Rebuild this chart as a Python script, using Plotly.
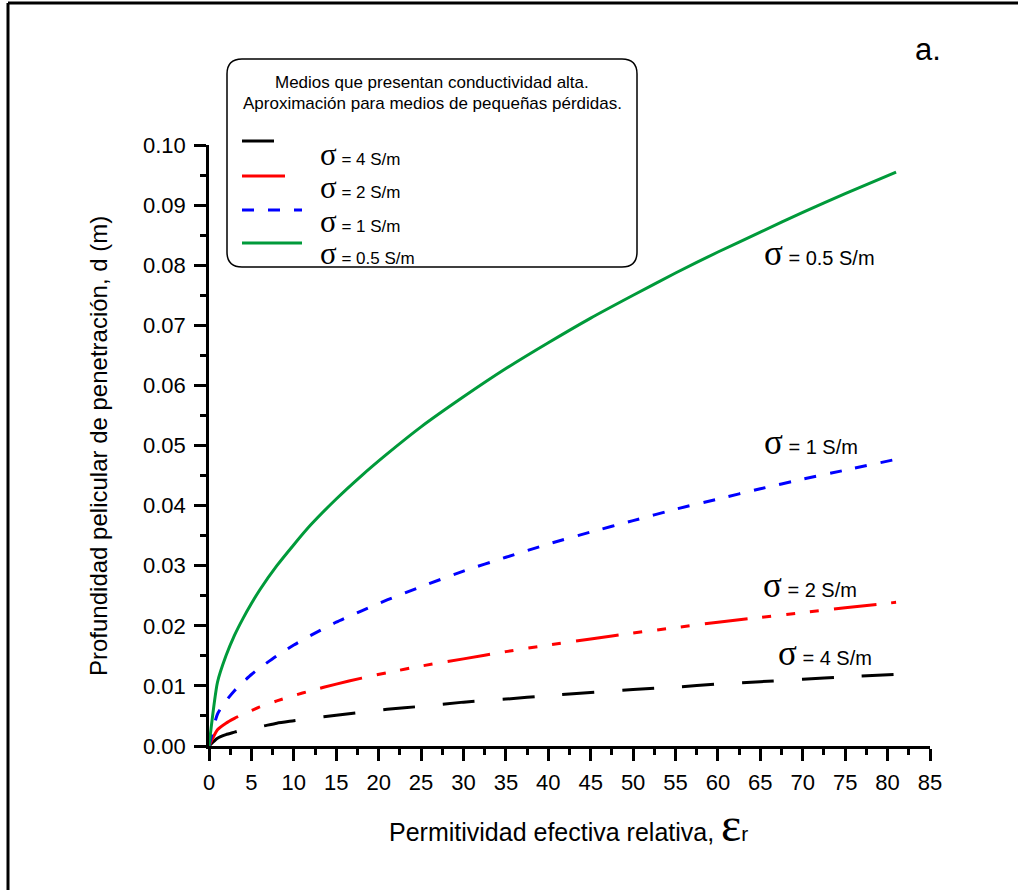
import plotly.graph_objects as go

# Relative effective permittivity (x) and skin depth d in metres (y) per conductivity
eps_r = [0, 1, 2, 3, 4, 5, 6, 8, 10, 12, 15, 18, 21, 25, 30, 35, 40, 45, 50, 55, 60, 65, 70, 75, 81]
d_sigma_4 = [0, 0.0013, 0.0019, 0.0023, 0.0027, 0.0030, 0.0032, 0.0038, 0.0042, 0.0046, 0.0051, 0.0056,
             0.0061, 0.0066, 0.0073, 0.0078, 0.0084, 0.0089, 0.0094, 0.0098, 0.0103, 0.0107, 0.0111, 0.0115, 0.0119]
d_sigma_2 = [0, 0.0027, 0.0038, 0.0046, 0.0053, 0.0059, 0.0065, 0.0075, 0.0084, 0.0092, 0.0103, 0.0113,
             0.0122, 0.0133, 0.0145, 0.0157, 0.0168, 0.0178, 0.0188, 0.0197, 0.0206, 0.0214, 0.0222, 0.0230, 0.0239]
d_sigma_1 = [0, 0.0053, 0.0075, 0.0092, 0.0106, 0.0119, 0.0130, 0.0150, 0.0168, 0.0184, 0.0206, 0.0225,
             0.0243, 0.0265, 0.0291, 0.0314, 0.0336, 0.0356, 0.0375, 0.0394, 0.0411, 0.0428, 0.0444, 0.0459, 0.0477]
d_sigma_05 = [0, 0.0106, 0.0150, 0.0184, 0.0212, 0.0237, 0.0260, 0.0300, 0.0335, 0.0368, 0.0411, 0.0450,
              0.0486, 0.0531, 0.0581, 0.0628, 0.0671, 0.0712, 0.0750, 0.0787, 0.0822, 0.0855, 0.0888, 0.0919, 0.0955]

series_labels = ["4 S/m", "2 S/m", "1 S/m", "0.5 S/m"]
series_values = [d_sigma_4, d_sigma_2, d_sigma_1, d_sigma_05]
series_colors = ["#000000", "#ff0000", "#0000ff", "#009a3a"]
series_dashes = ["32px,28px",
                 "43px,15px,9px,15px,9px,15px,9px,15px",
                 "12px,14px",
                 "solid"]

legend_title = ["Medios que presentan conductividad alta.",
                "Aproximación para medios de pequeñas pérdidas."]
x_title = "Permitividad efectiva relativa, "
y_title = "Profundidad pelicular de penetración, d (m)"
panel_tag = "a."

FIG_W, FIG_H = 1018, 890
L, T, W, H = 209, 145, 721, 601  # plot area in pixels
SANS = "Liberation Sans, Arial, sans-serif"
SERIF = "Liberation Serif, Times New Roman, serif"


def px(x):
    return (x - L) / W


def py(y):
    return (T + H - y) / H


def sigma_text(value, sig_size, txt_size):
    return (f"<span style='font-family:{SERIF};font-size:{sig_size}px'>σ</span>"
            f"<span style='font-size:{txt_size}px'> = {value}</span>")


fig = go.Figure()
for lab, vals, col, dash in zip(series_labels, series_values, series_colors, series_dashes):
    fig.add_trace(go.Scatter(x=eps_r, y=vals, mode="lines", name=f"σ = {lab}",
                             line=dict(color=col, width=3, dash=dash, shape="spline", smoothing=0.6),
                             showlegend=False))

shapes = []
# outer frame (left and top edges)
shapes.append(dict(type="line", xref="paper", yref="paper", x0=px(8), y0=py(3), x1=px(8), y1=py(900),
                   line=dict(color="black", width=3)))
shapes.append(dict(type="line", xref="paper", yref="paper", x0=px(8), y0=py(3), x1=px(1030), y1=py(3),
                   line=dict(color="black", width=3)))

# rounded legend box
bx0, bx1, by0, by1, r = 227, 637, 59, 267, 15
X0, X1, Y0, Y1 = px(bx0), px(bx1), py(by1), py(by0)
rx, ry = r / W, r / H
path = (f"M {X0+rx},{Y1} L {X1-rx},{Y1} Q {X1},{Y1} {X1},{Y1-ry} L {X1},{Y0+ry} "
        f"Q {X1},{Y0} {X1-rx},{Y0} L {X0+rx},{Y0} Q {X0},{Y0} {X0},{Y0+ry} "
        f"L {X0},{Y1-ry} Q {X0},{Y1} {X0+rx},{Y1} Z")
shapes.append(dict(type="path", xref="paper", yref="paper", path=path, fillcolor="white",
                   line=dict(color="black", width=1.5), layer="below"))

# legend sample lines
leg_line_y = [141, 176, 210, 243]
leg_line_x1 = [274, 286, 302, 302]
for yy, x1, col, dash in zip(leg_line_y, leg_line_x1, series_colors, series_dashes):
    shapes.append(dict(type="line", xref="paper", yref="paper", x0=px(242), x1=px(x1), y0=py(yy), y1=py(yy),
                       line=dict(color=col, width=3, dash=dash)))

annotations = []
for i, line in enumerate(legend_title):
    annotations.append(dict(xref="paper", yref="paper", x=px(432), y=py(82 + 21 * i), text=line,
                            showarrow=False, xanchor="center", yanchor="middle",
                            font=dict(family=SANS, size=17, color="black")))

leg_text_y = [154, 187, 221, 254]
for yy, lab in zip(leg_text_y, series_labels):
    annotations.append(dict(xref="paper", yref="paper", x=px(318), y=py(yy), text=sigma_text(lab, 31, 17),
                            showarrow=False, xanchor="left", yanchor="middle",
                            font=dict(family=SANS, size=17, color="black")))

# curve labels
curve_label_pos = [(776, 653), (761, 585), (762, 442), (762, 254)]
for (xx, yy), lab in zip(curve_label_pos, series_labels):
    annotations.append(dict(xref="paper", yref="paper", x=px(xx), y=py(yy), text=sigma_text(lab, 35, 20),
                            showarrow=False, xanchor="left", yanchor="middle",
                            font=dict(family=SANS, size=20, color="black")))

annotations.append(dict(xref="paper", yref="paper", x=px(913), y=py(50), text=panel_tag, showarrow=False,
                        xanchor="left", yanchor="middle", font=dict(family=SANS, size=31, color="black")))

annotations.append(dict(xref="paper", yref="paper", x=px(568), y=py(825),
                        text=x_title + f"<span style='font-family:{SERIF};font-size:48px'>ε</span>"
                                       f"<span style='font-size:21px'>r</span>",
                        showarrow=False, xanchor="center", yanchor="middle",
                        font=dict(family=SANS, size=25, color="black")))
annotations.append(dict(xref="paper", yref="paper", x=px(98), y=py(446), text=y_title, textangle=-90,
                        showarrow=False, xanchor="center", yanchor="middle",
                        font=dict(family=SANS, size=24, color="black")))

axis_common = dict(showline=True, linecolor="black", linewidth=2.5, ticks="outside", ticklen=12,
                   tickwidth=2.5, tickcolor="black", showgrid=False, zeroline=False,
                   tickfont=dict(family=SANS, size=22, color="black"))

fig.update_layout(
    width=FIG_W, height=FIG_H,
    margin=dict(l=L, r=FIG_W - L - W, t=T, b=FIG_H - T - H, pad=0),
    paper_bgcolor="white", plot_bgcolor="white",
    xaxis=dict(range=[0, 85], tick0=0, dtick=5,
               minor=dict(dtick=2.5, ticks="outside", ticklen=6, tickwidth=2.5, tickcolor="black",
                          showgrid=False),
               ticklabelstandoff=3, **axis_common),
    yaxis=dict(range=[0, 0.1], tick0=0, dtick=0.01, tickformat=".2f",
               minor=dict(dtick=0.005, ticks="outside", ticklen=6, tickwidth=2.5, tickcolor="black",
                          showgrid=False),
               ticklabelstandoff=4, **axis_common),
    shapes=shapes, annotations=annotations,
)

fig.write_html("out.html")
